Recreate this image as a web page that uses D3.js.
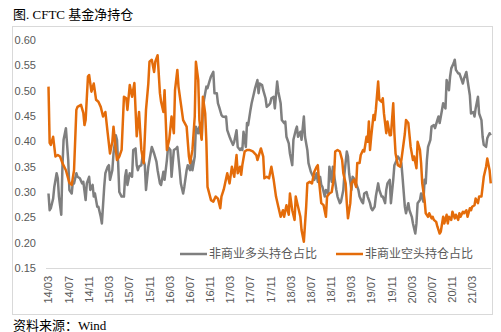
<!DOCTYPE html>
<html><head><meta charset="utf-8">
<script src="https://cdn.jsdelivr.net/npm/d3@7"></script>
<style>html,body{margin:0;padding:0;background:#fff;}svg{display:block;}</style>
</head><body>
<svg id="chart" width="501" height="332"></svg>
<script>
// ---- data (weekly CFTC, week index since 2014-03-04) ----
const startDate = "2014-03-04";
const seriesNames = ["非商业多头持仓占比", "非商业空头持仓占比"];
const longShare = [[0,0.297],[1,0.264],[2,0.268],[4,0.287],[5,0.310],[7,0.337],[8,0.327],[9,0.291],[11,0.255],[12,0.350],[13,0.403],[15,0.426],[17,0.363],[18,0.304],[20,0.297],[21,0.320],[22,0.317],[24,0.337],[25,0.330],[27,0.327],[29,0.317],[30,0.320],[32,0.284],[33,0.317],[35,0.330],[36,0.304],[38,0.314],[39,0.291],[40,0.297],[42,0.271],[43,0.271],[45,0.251],[46,0.238],[48,0.310],[49,0.337],[51,0.350],[52,0.353],[53,0.324],[55,0.343],[56,0.376],[58,0.412],[59,0.403],[60,0.357],[61,0.300],[63,0.291],[65,0.291],[66,0.330],[67,0.343],[68,0.314],[70,0.337],[72,0.330],[73,0.383],[75,0.386],[76,0.353],[77,0.343],[78,0.350],[80,0.353],[81,0.370],[83,0.353],[84,0.304],[86,0.350],[88,0.376],[89,0.389],[91,0.376],[93,0.360],[94,0.343],[96,0.317],[97,0.314],[99,0.340],[100,0.324],[102,0.363],[103,0.389],[105,0.383],[106,0.330],[108,0.383],[110,0.386],[111,0.389],[113,0.343],[114,0.317],[116,0.297],[117,0.310],[119,0.343],[120,0.353],[122,0.343],[123,0.363],[124,0.343],[126,0.370],[127,0.429],[129,0.416],[130,0.429],[132,0.406],[133,0.462],[134,0.482],[136,0.508],[137,0.505],[139,0.521],[140,0.528],[142,0.537],[143,0.495],[145,0.495],[146,0.475],[147,0.468],[149,0.452],[150,0.449],[152,0.448],[153,0.449],[154,0.422],[156,0.409],[157,0.403],[159,0.393],[160,0.399],[162,0.422],[163,0.389],[165,0.383],[166,0.386],[167,0.383],[168,0.419],[170,0.389],[171,0.436],[172,0.432],[174,0.462],[175,0.475],[177,0.495],[178,0.505],[180,0.521],[181,0.495],[182,0.514],[184,0.511],[185,0.501],[187,0.485],[188,0.468],[190,0.472],[191,0.475],[192,0.485],[194,0.488],[195,0.465],[197,0.518],[198,0.498],[200,0.475],[201,0.442],[203,0.436],[204,0.439],[205,0.409],[207,0.396],[208,0.376],[210,0.353],[211,0.403],[213,0.422],[214,0.429],[215,0.409],[217,0.419],[218,0.403],[220,0.449],[221,0.409],[223,0.383],[224,0.357],[226,0.340],[228,0.330],[229,0.324],[231,0.337],[232,0.320],[234,0.330],[235,0.314],[236,0.310],[238,0.291],[239,0.304],[241,0.297],[242,0.350],[244,0.320],[245,0.350],[246,0.334],[248,0.304],[249,0.291],[251,0.278],[252,0.281],[254,0.304],[255,0.337],[257,0.380],[258,0.370],[259,0.337],[261,0.304],[262,0.330],[264,0.324],[265,0.317],[267,0.304],[268,0.291],[270,0.281],[271,0.278],[272,0.297],[274,0.300],[275,0.291],[277,0.278],[278,0.268],[279,0.264],[281,0.271],[282,0.291],[284,0.317],[285,0.304],[287,0.291],[288,0.291],[290,0.278],[291,0.304],[292,0.317],[294,0.324],[295,0.278],[297,0.324],[298,0.353],[300,0.363],[301,0.370],[303,0.363],[304,0.357],[305,0.330],[307,0.271],[308,0.258],[310,0.278],[311,0.264],[313,0.251],[314,0.238],[316,0.218],[317,0.238],[318,0.278],[320,0.284],[321,0.297],[323,0.281],[324,0.324],[325,0.317],[326,0.363],[327,0.389],[329,0.403],[330,0.429],[332,0.432],[333,0.426],[335,0.442],[336,0.449],[337,0.436],[339,0.462],[340,0.475],[342,0.465],[343,0.521],[345,0.501],[346,0.528],[347,0.544],[349,0.554],[350,0.561],[351,0.541],[353,0.534],[354,0.534],[356,0.521],[357,0.514],[358,0.524],[360,0.537],[361,0.521],[363,0.491],[364,0.455],[366,0.458],[367,0.449],[368,0.465],[370,0.488],[371,0.455],[373,0.442],[374,0.409],[375,0.393],[377,0.389],[378,0.406],[380,0.416],[381,0.412]];
const shortShare = [[0,0.508],[1,0.397],[2,0.393],[4,0.409],[6,0.370],[8,0.373],[10,0.370],[12,0.357],[15,0.343],[18,0.318],[20,0.314],[22,0.343],[24,0.462],[25,0.468],[28,0.472],[30,0.456],[31,0.432],[32,0.442],[34,0.528],[35,0.531],[37,0.498],[39,0.514],[41,0.482],[43,0.478],[45,0.468],[47,0.449],[49,0.458],[51,0.416],[53,0.376],[55,0.399],[56,0.429],[58,0.383],[59,0.363],[61,0.370],[63,0.383],[65,0.488],[67,0.485],[68,0.462],[70,0.511],[72,0.488],[74,0.515],[76,0.410],[78,0.458],[80,0.383],[82,0.357],[84,0.462],[86,0.514],[87,0.557],[89,0.561],[91,0.537],[92,0.557],[94,0.570],[96,0.495],[97,0.478],[99,0.458],[100,0.501],[102,0.383],[104,0.403],[106,0.449],[108,0.416],[109,0.501],[111,0.541],[112,0.508],[114,0.475],[116,0.442],[119,0.429],[121,0.370],[122,0.357],[124,0.383],[126,0.449],[127,0.557],[129,0.521],[130,0.442],[132,0.403],[133,0.488],[135,0.455],[136,0.400],[137,0.310],[140,0.284],[142,0.281],[144,0.291],[146,0.287],[148,0.268],[149,0.291],[151,0.305],[154,0.337],[156,0.317],[158,0.350],[160,0.330],[162,0.373],[163,0.337],[165,0.350],[166,0.334],[167,0.353],[169,0.380],[171,0.383],[173,0.383],[176,0.380],[179,0.373],[180,0.363],[183,0.386],[185,0.370],[186,0.327],[188,0.330],[190,0.327],[192,0.350],[194,0.324],[196,0.291],[198,0.271],[200,0.251],[202,0.264],[203,0.251],[205,0.274],[207,0.255],[208,0.297],[210,0.264],[212,0.245],[213,0.291],[215,0.271],[217,0.251],[218,0.225],[220,0.202],[222,0.271],[223,0.317],[225,0.320],[227,0.317],[229,0.340],[231,0.350],[232,0.353],[233,0.324],[235,0.278],[237,0.274],[239,0.251],[240,0.291],[242,0.297],[244,0.300],[246,0.330],[247,0.380],[249,0.383],[251,0.380],[253,0.363],[254,0.337],[256,0.317],[257,0.278],[258,0.248],[260,0.278],[261,0.317],[263,0.324],[265,0.310],[266,0.357],[268,0.357],[269,0.373],[271,0.383],[272,0.380],[274,0.409],[275,0.399],[276,0.439],[277,0.383],[278,0.409],[280,0.452],[281,0.442],[282,0.462],[284,0.518],[285,0.482],[287,0.478],[288,0.485],[289,0.455],[291,0.416],[292,0.439],[294,0.412],[295,0.412],[297,0.475],[298,0.416],[299,0.376],[301,0.353],[303,0.350],[304,0.363],[307,0.415],[308,0.442],[310,0.436],[312,0.389],[314,0.363],[315,0.370],[317,0.347],[318,0.399],[320,0.383],[321,0.357],[322,0.317],[324,0.284],[325,0.258],[327,0.251],[328,0.258],[330,0.248],[331,0.251],[332,0.245],[334,0.241],[335,0.232],[337,0.218],[338,0.222],[340,0.251],[341,0.238],[343,0.255],[344,0.238],[345,0.251],[347,0.245],[348,0.261],[350,0.248],[351,0.255],[353,0.245],[354,0.258],[355,0.251],[357,0.261],[358,0.258],[360,0.264],[361,0.251],[363,0.268],[364,0.264],[365,0.271],[367,0.274],[368,0.287],[370,0.278],[371,0.291],[373,0.291],[374,0.310],[375,0.330],[377,0.350],[378,0.366],[380,0.343],[381,0.317]];
const yTickValues = [0.15,0.20,0.25,0.30,0.35,0.40,0.45,0.50,0.55,0.60];
const xTickLabels = ["14/03","14/07","14/11","15/03","15/07","15/11","16/03","16/07","16/11","17/03","17/07","17/11","18/03","18/07","18/11","19/03","19/07","19/11","20/03","20/07","20/11","21/03"];
const titleText = "图. CFTC 基金净持仓";
const sourceText = "资料来源：Wind";

// ---- drawing ----
const svg = d3.select("#chart");
const colors = ["#7f7f7f", "#e46c0a"];
const t0 = d3.isoParse(startDate);
const toDate = w => d3.timeDay.offset(t0, w * 7);
const parseTick = s => new Date(2000 + +s.slice(0,2), +s.slice(3) - 1, 1);

const x = d3.scaleTime()
  .domain([parseTick(xTickLabels[0]), parseTick(xTickLabels[xTickLabels.length-1])])
  .range([48, 472]);
const y = d3.scaleLinear().domain([0.15, 0.60]).range([268, 40]);

// frame
svg.append("rect").attr("x", 12.5).attr("y", 26.5).attr("width", 480).attr("height", 288)
  .attr("fill", "none").attr("stroke", "#d9d9d9").attr("stroke-width", 1);

// title & source
svg.append("text").attr("x", 13).attr("y", 19)
  .attr("font-family", "'Liberation Serif','Noto Sans CJK SC',serif").attr("font-size", 13)
  .attr("fill", "#000").text(titleText);
svg.append("text").attr("x", 13).attr("y", 330)
  .attr("font-family", "'Liberation Serif','Noto Sans CJK SC',serif").attr("font-size", 13)
  .attr("fill", "#000").text(sourceText);

// y axis (labels only)
const yAxis = d3.axisLeft(y).tickValues(yTickValues).tickFormat(d3.format(".2f")).tickSize(0).tickPadding(0);
const gy = svg.append("g").attr("transform", "translate(36,0)").call(yAxis);
gy.select(".domain").remove();
gy.selectAll("text").attr("font-family", "'Liberation Sans',Arial,sans-serif").attr("font-size", 11).attr("fill", "#595959");

// x axis line + rotated labels
const xAxis = d3.axisBottom(x).tickValues(xTickLabels.map(parseTick)).tickFormat((d,i) => xTickLabels[i]).tickSize(0).tickPadding(0);
const gx = svg.append("g").attr("transform", "translate(0,268)").call(xAxis);
gx.select(".domain").attr("d", "M46,0.5H491").attr("stroke", "#d9d9d9");
gx.selectAll("text")
  .attr("font-family", "'Liberation Sans',Arial,sans-serif").attr("font-size", 11).attr("fill", "#595959")
  .attr("text-anchor", "end").attr("dy", "0.35em")
  .attr("transform", "rotate(-90)").attr("y", 0).attr("x", -8);

// lines
const line = d3.line().x(d => x(toDate(d[0]))).y(d => y(d[1]));
[longShare, shortShare].forEach((s, i) => {
  svg.append("path").datum(s).attr("d", line).attr("fill", "none")
    .attr("stroke", colors[i]).attr("stroke-width", 2.5).attr("stroke-linejoin", "round");
});

// legend
const legendX = [180, 336];
seriesNames.forEach((n, i) => {
  const g = svg.append("g").attr("transform", `translate(${legendX[i]},254)`);
  g.append("line").attr("x1", 0).attr("x2", 27).attr("y1", 0).attr("y2", 0)
    .attr("stroke", colors[i]).attr("stroke-width", 2.5);
  g.append("text").attr("x", 29).attr("y", 0).attr("dy", "0.36em")
    .attr("font-family", "'Noto Sans CJK SC',sans-serif").attr("font-size", 12)
    .attr("fill", "#595959").text(n);
});
</script>
</body></html>
